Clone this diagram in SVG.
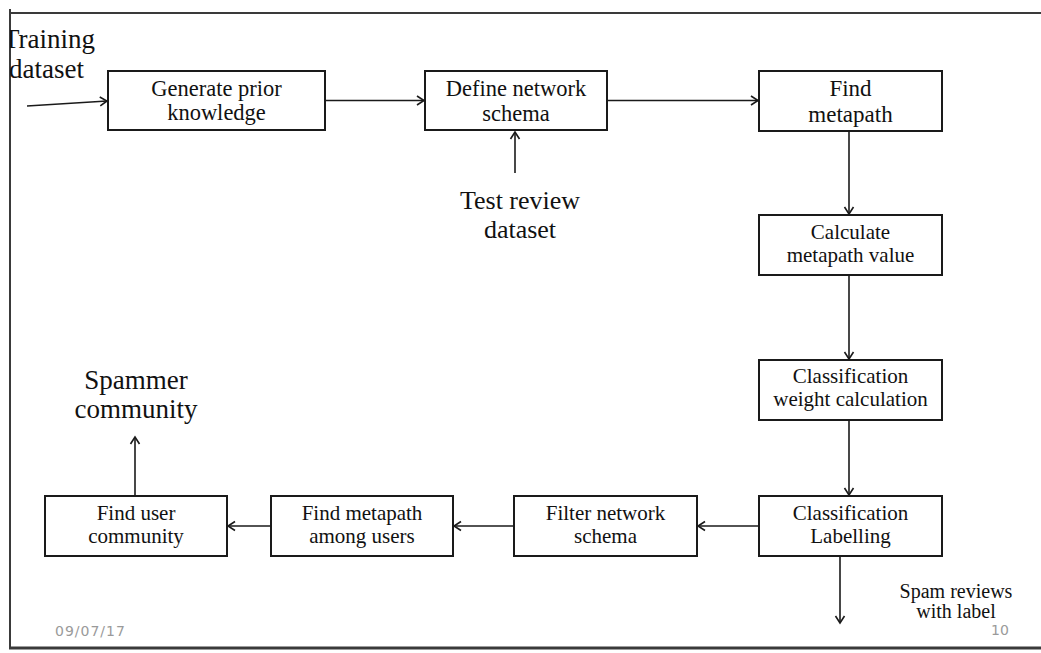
<svg xmlns="http://www.w3.org/2000/svg" width="1041" height="653" viewBox="0 0 1041 653">
<style>
.box{fill:#fff;stroke:#1a1a1a;stroke-width:2}
.t{font-family:"Liberation Serif","Times New Roman",serif;fill:#111;text-anchor:middle}
.b{font-size:21px}
.s{font-size:20px}
.tb{font-size:22.5px}
.big{font-size:26px}
.c{stroke:#1a1a1a;stroke-width:1.6;fill:none}
.foot{font-family:"DejaVu Sans",sans-serif;font-size:14px;fill:#9a9a9a;letter-spacing:1px}
.frame{stroke:#3a3a3a;fill:none}
</style>
<defs>
<marker id="ah" markerUnits="userSpaceOnUse" markerWidth="12" markerHeight="12" refX="9" refY="6" orient="auto">
<path d="M2,1.5 L9,6 L2,10.5" fill="none" stroke="#1a1a1a" stroke-width="1.6"/>
</marker>
<clipPath id="clipL"><rect x="10" y="0" width="1031" height="653"/></clipPath>
</defs>
<rect x="0" y="0" width="1041" height="653" fill="#fff"/>
<g id="frame">
<line class="frame" x1="10" y1="13" x2="1041" y2="13" stroke-width="2"/>
<line class="frame" x1="10" y1="9" x2="10" y2="649" stroke-width="2"/>
<line class="frame" x1="9" y1="648" x2="1041" y2="648" stroke-width="3"/>
</g>
<g id="training-dataset" clip-path="url(#clipL)">
<text class="t big" x="3" y="48" style="text-anchor:start;font-size:27px">Training</text>
<text class="t big" x="9" y="78" style="text-anchor:start;font-size:27px">dataset</text>
</g>
<g id="test-review-dataset">
<text class="t big" x="520" y="209">Test review</text>
<text class="t big" x="520" y="238">dataset</text>
</g>
<g id="spammer-community">
<text class="t big" x="136" y="389" style="font-size:27px">Spammer</text>
<text class="t big" x="136" y="418" style="font-size:27px">community</text>
</g>
<g id="spam-reviews">
<text class="t s" x="956" y="598">Spam reviews</text>
<text class="t s" x="956" y="618">with label</text>
</g>
<g id="n1"><rect class="box" x="108" y="71" width="217" height="59"/>
<text class="t tb" x="216.5" y="96">Generate prior</text><text class="t tb" x="216.5" y="120">knowledge</text></g>
<g id="n2"><rect class="box" x="425" y="71" width="182" height="59"/>
<text class="t tb" x="516" y="96">Define network</text><text class="t tb" x="516" y="121">schema</text></g>
<g id="n3"><rect class="box" x="759" y="71" width="183" height="60"/>
<text class="t" style="font-size:23px" x="850.5" y="96">Find</text><text class="t" style="font-size:23px" x="850.5" y="122">metapath</text></g>
<g id="n4"><rect class="box" x="759" y="215" width="183" height="60"/>
<text class="t b" x="850.5" y="239">Calculate</text><text class="t b" x="850.5" y="262">metapath value</text></g>
<g id="n5"><rect class="box" x="759" y="360" width="183" height="60"/>
<text class="t b" x="850.5" y="383">Classification</text><text class="t b" x="850.5" y="406">weight calculation</text></g>
<g id="n6"><rect class="box" x="759" y="496" width="183" height="60"/>
<text class="t b" x="850.5" y="520">Classification</text><text class="t b" x="850.5" y="543">Labelling</text></g>
<g id="n7"><rect class="box" x="514" y="496" width="183" height="60"/>
<text class="t b" x="605.5" y="520">Filter network</text><text class="t b" x="605.5" y="543">schema</text></g>
<g id="n8"><rect class="box" x="271" y="496" width="182" height="60"/>
<text class="t b" x="362" y="520">Find metapath</text><text class="t b" x="362" y="543">among users</text></g>
<g id="n9"><rect class="box" x="45" y="496" width="182" height="60"/>
<text class="t b" x="136" y="520">Find user</text><text class="t b" x="136" y="543">community</text></g>
<g id="connectors">
<line class="c" x1="27" y1="106" x2="107" y2="101" marker-end="url(#ah)"/>
<line class="c" x1="325" y1="100.5" x2="424" y2="100.5" marker-end="url(#ah)"/>
<line class="c" x1="607" y1="100.5" x2="758" y2="100.5" marker-end="url(#ah)"/>
<line class="c" x1="515" y1="173" x2="515" y2="132" marker-end="url(#ah)"/>
<line class="c" x1="849" y1="131" x2="849" y2="214" marker-end="url(#ah)"/>
<line class="c" x1="849" y1="275" x2="849" y2="359" marker-end="url(#ah)"/>
<line class="c" x1="849" y1="420" x2="849" y2="495" marker-end="url(#ah)"/>
<line class="c" x1="759" y1="526" x2="698" y2="526" marker-end="url(#ah)"/>
<line class="c" x1="514" y1="526" x2="454" y2="526" marker-end="url(#ah)"/>
<line class="c" x1="271" y1="526" x2="228" y2="526" marker-end="url(#ah)"/>
<line class="c" x1="135" y1="496" x2="135" y2="437" marker-end="url(#ah)"/>
<line class="c" x1="840" y1="556" x2="840" y2="623" marker-end="url(#ah)"/>
</g>
<g id="footer">
<text class="foot" x="55" y="636">09/07/17</text>
<text class="foot" x="991" y="635" style="letter-spacing:0">10</text>
</g>
</svg>
